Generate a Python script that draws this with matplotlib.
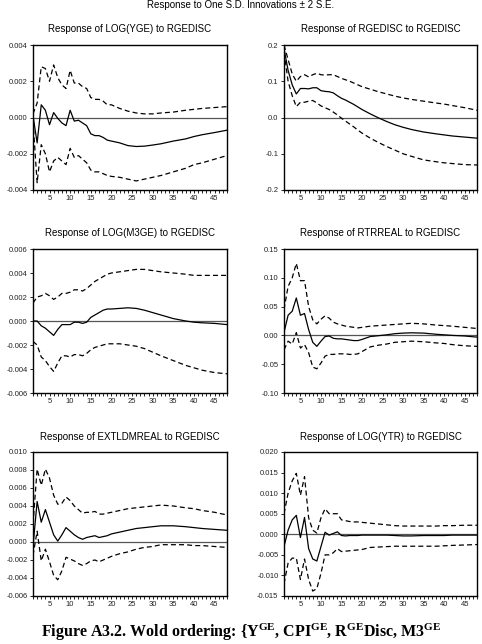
import numpy as np
import matplotlib
matplotlib.use("Agg")
import matplotlib.pyplot as plt
from matplotlib.ticker import MultipleLocator, FormatStrFormatter

plt.rcParams['font.family'] = ['Liberation Sans', 'DejaVu Sans']
plt.rcParams['mathtext.fontset'] = 'custom'
plt.rcParams['mathtext.rm'] = 'Liberation Serif:bold'
plt.rcParams['mathtext.it'] = 'Liberation Serif:bold'
plt.rcParams['mathtext.bf'] = 'Liberation Serif:bold'

# horizons (periods)
horizon = list(range(1, 21)) + [22, 24, 26, 28, 30, 32, 35, 38, 40, 42, 45, 48]

# Response of LOG(YGE) to RGEDISC
yge_resp = [0.0001, -0.0014, 0.0007, 0.0004, -0.0004, 0.00027, -0.00005, -0.0003, -0.00045, 0.0004,
            -0.0002, -0.00015, -0.0003, -0.00045, -0.0009, -0.001, -0.001, -0.0011, -0.00125, -0.0013,
            -0.0014, -0.00155, -0.0016, -0.00158, -0.00152, -0.00145, -0.0013, -0.00118, -0.00105, -0.00095, -0.00083, -0.0007]
yge_up = [0.0002, 0.0008, 0.0028, 0.0027, 0.002, 0.0029, 0.0022, 0.0018, 0.0016, 0.0026,
          0.0019, 0.0019, 0.0017, 0.0016, 0.0011, 0.001, 0.001, 0.0009, 0.0007, 0.0007,
          0.0005, 0.00035, 0.00025, 0.0002, 0.0002, 0.00025, 0.0003, 0.0004, 0.00045, 0.0005, 0.00055, 0.0006]
yge_lo = [-0.0002, -0.0036, -0.0015, -0.002, -0.003, -0.0024, -0.0022, -0.0024, -0.0026, -0.0017,
          -0.0022, -0.0021, -0.0023, -0.0025, -0.0029, -0.003, -0.003, -0.0031, -0.0032, -0.00325,
          -0.0033, -0.0034, -0.0035, -0.0034, -0.0033, -0.0032, -0.003, -0.0028, -0.0026, -0.0025, -0.0023, -0.0021]

# Response of RGEDISC to RGEDISC
rge_resp = [0.19, 0.13, 0.09, 0.065, 0.08, 0.08, 0.079, 0.082, 0.082, 0.074,
            0.072, 0.071, 0.068, 0.06, 0.053, 0.048, 0.042, 0.036, 0.029, 0.022,
            0.01, -0.001, -0.011, -0.02, -0.027, -0.033, -0.04, -0.045, -0.048, -0.051, -0.054, -0.057]
rge_up = [0.2, 0.16, 0.12, 0.1, 0.113, 0.118, 0.112, 0.118, 0.122, 0.118,
          0.117, 0.118, 0.118, 0.113, 0.108, 0.104, 0.1, 0.095, 0.09, 0.085,
          0.078, 0.071, 0.065, 0.059, 0.054, 0.05, 0.045, 0.04, 0.037, 0.033, 0.027, 0.02]
rge_lo = [0.18, 0.1, 0.06, 0.03, 0.042, 0.042, 0.045, 0.047, 0.04, 0.032,
          0.027, 0.022, 0.015, 0.007, -0.002, -0.01, -0.018, -0.026, -0.035, -0.043,
          -0.057, -0.069, -0.08, -0.09, -0.1, -0.107, -0.117, -0.122, -0.125, -0.127, -0.13, -0.131]

# Response of LOG(M3GE) to RGEDISC
m3_resp = [0.0, 0.0, -0.0004, -0.0006, -0.0009, -0.0012, -0.0007, -0.0003, -0.0003, -0.0003,
           -0.0001, -0.0001, -0.0002, -0.0001, 0.0003, 0.0005, 0.0007, 0.0009, 0.001, 0.001,
           0.00105, 0.0011, 0.00105, 0.0009, 0.0007, 0.0005, 0.0002, 0.0, -0.0001, -0.00015, -0.0002, -0.0003]
m3_up = [0.0015, 0.002, 0.0021, 0.0023, 0.0021, 0.0018, 0.002, 0.0023, 0.0023, 0.0024,
         0.0026, 0.0026, 0.0025, 0.0027, 0.003, 0.0033, 0.0035, 0.0037, 0.0039, 0.004,
         0.0041, 0.0042, 0.0043, 0.0043, 0.0042, 0.0041, 0.004, 0.0039, 0.0038, 0.0038, 0.0038, 0.0038]
m3_lo = [-0.0017, -0.002, -0.003, -0.0033, -0.0038, -0.0042, -0.0035, -0.0029, -0.0029, -0.003,
         -0.0028, -0.0028, -0.0029, -0.0027, -0.0024, -0.0022, -0.0021, -0.002, -0.0019, -0.0019,
         -0.0019, -0.002, -0.0021, -0.0023, -0.0026, -0.0029, -0.0033, -0.0037, -0.0039, -0.0041, -0.0043, -0.0044]

# Response of RTRREAL to RGEDISC
rtr_resp = [0.005, 0.035, 0.042, 0.065, 0.035, 0.038, 0.01, -0.012, -0.019, -0.01,
            -0.002, -0.001, -0.005, -0.006, -0.006, -0.007, -0.008, -0.009, -0.009, -0.007,
            -0.002, -0.0005, 0.001, 0.003, 0.004, 0.0045, 0.004, 0.002, 0.001, 0.0, -0.001, -0.003]
rtr_up = [0.045, 0.085, 0.1, 0.125, 0.095, 0.095, 0.05, 0.027, 0.02, 0.028,
          0.034, 0.03, 0.023, 0.02, 0.018, 0.016, 0.015, 0.014, 0.013, 0.014,
          0.016, 0.017, 0.018, 0.019, 0.02, 0.021, 0.02, 0.018, 0.017, 0.016, 0.014, 0.012]
rtr_lo = [-0.025, -0.01, -0.015, 0.005, -0.022, -0.016, -0.03, -0.055, -0.058, -0.048,
          -0.036, -0.033, -0.033, -0.032, -0.032, -0.032, -0.033, -0.033, -0.032, -0.028,
          -0.02, -0.017, -0.015, -0.012, -0.011, -0.01, -0.011, -0.013, -0.014, -0.016, -0.018, -0.019]

# Response of EXTLDMREAL to RGEDISC
ext_resp = [-0.0005, 0.0045, 0.0022, 0.0036, 0.0022, 0.0008, 0.0001, 0.0008, 0.0016, 0.0012,
            0.0008, 0.0005, 0.0003, 0.0005, 0.0006, 0.0007, 0.0005, 0.0006, 0.0007, 0.0009,
            0.0011, 0.0013, 0.0015, 0.0016, 0.0017, 0.0018, 0.0018, 0.0017, 0.0016, 0.0015, 0.0014, 0.0013]
ext_up = [0.002, 0.0081, 0.0063, 0.0081, 0.0071, 0.0052, 0.0042, 0.0043, 0.005, 0.0046,
          0.004, 0.0036, 0.0032, 0.0033, 0.0033, 0.0034, 0.0031, 0.0031, 0.0032, 0.0033,
          0.0035, 0.0037, 0.0038, 0.0039, 0.004, 0.0041, 0.004, 0.0038, 0.0037, 0.0035, 0.0033, 0.003]
ext_lo = [-0.0015, 0.0012, -0.0021, -0.0008, -0.0022, -0.0037, -0.0042, -0.0032, -0.0017, -0.0019,
          -0.0021, -0.0024, -0.0026, -0.0024, -0.0021, -0.002, -0.0022, -0.002, -0.0018, -0.0016,
          -0.0013, -0.0011, -0.0008, -0.0006, -0.0005, -0.0003, -0.0003, -0.0003, -0.0004, -0.0004, -0.0005, -0.0006]

# Response of LOG(YTR) to RGEDISC
ytr_resp = [-0.003, 0.001, 0.0035, 0.0046, -0.0008, 0.0041, -0.0035, -0.006, -0.0065, -0.003,
            0.0005, -0.0002, 0.0002, 0.0006, -0.0003, -0.0004, -0.0003, -0.0003, -0.0003, -0.0002,
            -0.0002, -0.0002, -0.0002, -0.0003, -0.0004, -0.0004, -0.0003, -0.0003, -0.0003, -0.0002, -0.0002, -0.0002]
ytr_up = [0.005, 0.01, 0.013, 0.0148, 0.0095, 0.014, 0.004, 0.001, 0.0003, 0.004,
          0.0062, 0.005, 0.005, 0.005, 0.0035, 0.0033, 0.0031, 0.003, 0.003, 0.0029,
          0.0027, 0.0025, 0.0023, 0.0021, 0.002, 0.002, 0.002, 0.002, 0.0021, 0.0021, 0.0022, 0.0022]
ytr_lo = [-0.012, -0.007, -0.0058, -0.0058, -0.011, -0.006, -0.011, -0.0138, -0.0132, -0.0095,
          -0.005, -0.005, -0.0045, -0.0035, -0.0042, -0.0041, -0.004, -0.0039, -0.0038, -0.0037,
          -0.0032, -0.0031, -0.003, -0.0029, -0.0029, -0.0029, -0.0029, -0.0029, -0.0028, -0.0027, -0.0026, -0.0025]

panels = [
    ("Response of LOG(YGE) to RGEDISC", yge_resp, yge_up, yge_lo, (-0.004, 0.004), 0.002, '%.3f'),
    ("Response of RGEDISC to RGEDISC", rge_resp, rge_up, rge_lo, (-0.2, 0.2), 0.1, '%.1f'),
    ("Response of LOG(M3GE) to RGEDISC", m3_resp, m3_up, m3_lo, (-0.006, 0.006), 0.002, '%.3f'),
    ("Response of RTRREAL to RGEDISC", rtr_resp, rtr_up, rtr_lo, (-0.10, 0.15), 0.05, '%.2f'),
    ("Response of EXTLDMREAL to RGEDISC", ext_resp, ext_up, ext_lo, (-0.006, 0.010), 0.002, '%.3f'),
    ("Response of LOG(YTR) to RGEDISC", ytr_resp, ytr_up, ytr_lo, (-0.015, 0.020), 0.005, '%.3f'),
]

W, H = 482, 644
fig = plt.figure(figsize=(W / 100, H / 100), dpi=100)

# axes boxes in pixels: left, top, right, bottom
cols = [(33, 227), (284, 477)]
rows = [(45, 190), (249, 393), (452, 596)]

for i, (title, resp, up, lo, ylim, step, fmt) in enumerate(panels):
    x0, x1 = cols[i % 2]
    t, b = rows[i // 2]
    ax = fig.add_axes([x0 / W, 1 - b / H, (x1 - x0) / W, (b - t) / H])
    ax.axhline(0, color='#555555', lw=0.9, zorder=1)
    ax.plot(horizon, resp, color='black', lw=0.9, zorder=3)
    ax.plot(horizon, up, color='black', lw=0.9, ls=(0, (4, 2.5)), zorder=2)
    ax.plot(horizon, lo, color='black', lw=0.9, ls=(0, (4, 2.5)), zorder=2)
    ax.set_xlim(1, 48)
    ax.set_ylim(*ylim)
    ax.xaxis.set_major_locator(MultipleLocator(5))
    ax.xaxis.set_minor_locator(MultipleLocator(1))
    ax.yaxis.set_major_locator(MultipleLocator(step))
    ax.yaxis.set_major_formatter(FormatStrFormatter(fmt))
    ax.tick_params(axis='both', which='both', direction='out', labelsize=5.5,
                   length=2.5, width=0.7, pad=1.5, colors='#222222')
    ax.tick_params(axis='x', which='major', pad=1)
    for sp in ax.spines.values():
        sp.set_linewidth(1.0)
    ax.set_title(title, fontsize=7, pad=9)

fig.text(0.5, 1 - 0.5 / H, "Response to One S.D. Innovations \u00b1 2 S.E.",
         ha='center', va='top', fontsize=7)

caption = (r"Figure A3.2. Wold ordering: {Y$^{\rm GE}$, CPI$^{\rm GE}$, "
           r"R$^{\rm GE}$Disc, M3$^{\rm GE}$")
fig.text(0.5, 1 / H, caption, ha='center', va='bottom', fontsize=11.5,
         family='Liberation Serif', fontweight='bold')

fig.savefig("out.png", dpi=100)
